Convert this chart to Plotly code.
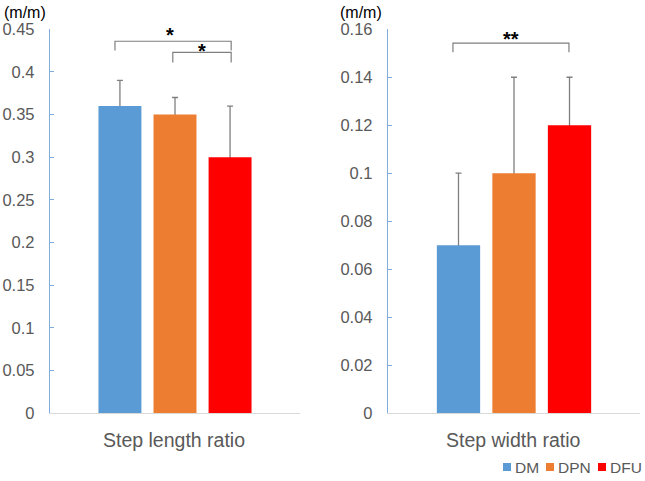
import plotly.graph_objects as go

groups = ["DM", "DPN", "DFU"]
colors = ["#5B9BD5", "#ED7D31", "#FF0000"]
length_mean = [0.36, 0.35, 0.30]
length_sd = [0.03, 0.02, 0.06]
width_mean = [0.07, 0.10, 0.12]
width_sd = [0.03, 0.04, 0.02]
length_ticks = [0, 0.05, 0.1, 0.15, 0.2, 0.25, 0.3, 0.35, 0.4, 0.45]
width_ticks = [0, 0.02, 0.04, 0.06, 0.08, 0.1, 0.12, 0.14, 0.16]
panel_titles = ["Step length ratio", "Step width ratio"]

W, H = 645, 481
FONT = "Liberation Sans, Arial, sans-serif"
GRAY = "#595959"
AXBLUE = "#7FAEDD"
ERR = "#7F7F7F"

pos = list(range(len(groups)))
fig = go.Figure()

panels = [
    (length_mean, length_sd, "x", "y", "y3"),
    (width_mean, width_sd, "x2", "y2", "y4"),
]
for means, sds, xa, ya, yb in panels:
    # error bars underneath (lower half hidden by the bars drawn on top)
    fig.add_trace(go.Scatter(
        x=pos, y=means, mode="markers", marker=dict(size=0.1, color=ERR),
        error_y=dict(type="data", array=sds, color=ERR, thickness=1.3, width=3),
        xaxis=xa, yaxis=ya, showlegend=False, hoverinfo="skip"))
    fig.add_trace(go.Bar(
        x=pos, y=means, width=0.78, marker=dict(color=colors, line=dict(width=0)),
        xaxis=xa, yaxis=yb, showlegend=False))

ydom = [(H - 413) / H, (H - 29.3) / H]
xd1 = [50 / W, 300 / W]
xd2 = [388 / W, 640 / W]
XR = [-1.27, 3.27]

def fmt(t):
    return "0" if t == 0 else f"{t:g}"

def yax(rng, ticks, anchor):
    return dict(range=rng, domain=ydom, anchor=anchor, tickvals=ticks,
                ticktext=[fmt(t) for t in ticks],
                showgrid=False, zeroline=False, showline=True, linecolor=AXBLUE,
                linewidth=1.3, ticks="inside", ticklen=4, tickcolor=AXBLUE,
                ticklabelstandoff=11,
                tickfont=dict(size=16.5, color=GRAY, family=FONT))

def yover(rng, over, anchor):
    return dict(range=rng, overlaying=over, anchor=anchor, visible=False,
                showgrid=False, zeroline=False)

def xax(anchor, dom):
    return dict(domain=dom, anchor=anchor, showticklabels=False, showgrid=False,
                zeroline=False, showline=True, linecolor="#D9D9D9", linewidth=1,
                ticks="", range=XR)

fig.update_layout(
    width=W, height=H, margin=dict(l=0, r=0, t=0, b=0, autoexpand=False),
    paper_bgcolor="white", plot_bgcolor="rgba(0,0,0,0)",
    font=dict(family=FONT, color=GRAY),
    showlegend=False,
    xaxis=xax("y", xd1), xaxis2=xax("y2", xd2),
    yaxis=yax([0, 0.45], length_ticks, "x"),
    yaxis2=yax([0, 0.16], width_ticks, "x2"),
    yaxis3=yover([0, 0.45], "y", "x"),
    yaxis4=yover([0, 0.16], "y2", "x2"),
)

def bracket(xref, yref, x0, x1, ytop, ybot):
    fig.add_shape(type="path", xref=xref, yref=yref,
                  path=f"M {x0},{ybot} L {x0},{ytop} L {x1},{ytop} L {x1},{ybot}",
                  line=dict(color=ERR, width=1.2))

bracket("x", "y", -0.09, 2.02, 0.436, 0.425)
bracket("x", "y", 0.96, 2.02, 0.423, 0.411)
bracket("x2", "y2", -0.10, 1.99, 0.1542, 0.1504)

def star(xref, yref, x, y, txt):
    fig.add_annotation(xref=xref, yref=yref, x=x, y=y, text=f"<b>{txt}</b>", showarrow=False,
                       font=dict(size=20, color="black", family=FONT), yanchor="middle")

star("x", "y", 0.91, 0.443, "*")
star("x", "y", 1.49, 0.4245, "*")
star("x2", "y2", 0.95, 0.1560, "**")

for xp in [2, 338]:
    fig.add_annotation(xref="paper", yref="paper", x=xp / W, y=(H - 12) / H, text="(m/m)",
                       showarrow=False, xanchor="left", yanchor="middle",
                       font=dict(size=16, color="black", family=FONT))

for xc, lab in zip([174, 513], panel_titles):
    fig.add_annotation(xref="paper", yref="paper", x=xc / W, y=(H - 440) / H, text=lab,
                       showarrow=False, xanchor="center", yanchor="middle",
                       font=dict(size=19.5, color=GRAY, family=FONT))

# legend (compact, like the original)
leg_x = [503, 546, 598]
for g, c, lx in zip(groups, colors, leg_x):
    fig.add_shape(type="rect", xref="paper", yref="paper",
                  x0=lx / W, x1=(lx + 8) / W, y0=(H - 471) / H, y1=(H - 463) / H,
                  fillcolor=c, line=dict(width=0))
    fig.add_annotation(xref="paper", yref="paper", x=(lx + 10) / W, y=(H - 467) / H, text=g,
                       showarrow=False, xanchor="left", yanchor="middle",
                       font=dict(size=15.5, color=GRAY, family=FONT))

fig.write_html("out.html", config={"displayModeBar": False},
               post_script="document.body.style.margin='0';")
